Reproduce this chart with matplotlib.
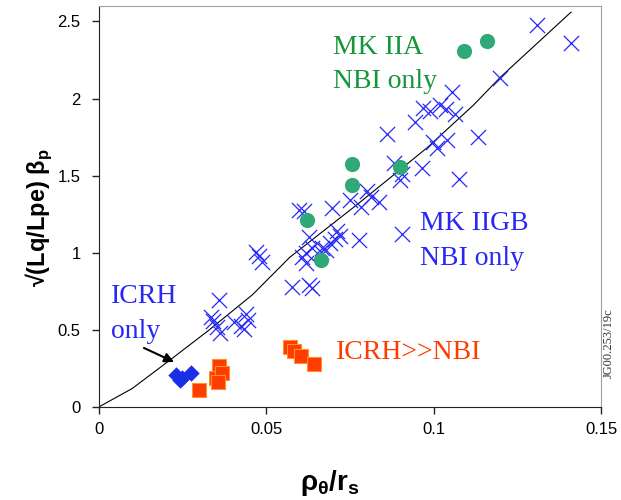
#!/usr/bin/env python
"""plot.py -- normalised beta_p vs rho_theta/r_s scatter, redrawn as out.png."""

import matplotlib
matplotlib.use("Agg")
import matplotlib.pyplot as plt

plt.rcParams["font.family"] = ["Liberation Sans", "DejaVu Sans"]
plt.rcParams["mathtext.fontset"] = "custom"
plt.rcParams["mathtext.rm"] = "Liberation Sans"
plt.rcParams["mathtext.bf"] = "Liberation Sans:bold"

# MK IIGB, NBI only (blue crosses)
cross_x = [0.1308, 0.1410, 0.1198, 0.1054, 0.0967, 0.0988, 0.1018, 0.1036,
           0.1063, 0.0943, 0.0862, 0.0997, 0.1039, 0.1009, 0.1132, 0.0883,
           0.0964, 0.1075, 0.0898, 0.0904, 0.0802, 0.0814, 0.0838, 0.0749,
           0.0784, 0.0695, 0.0599, 0.0614, 0.0629, 0.0710, 0.0719, 0.0704,
           0.0689, 0.0668, 0.0778, 0.0904, 0.0638, 0.0620, 0.0608, 0.0620,
           0.0470, 0.0479, 0.0488, 0.0578, 0.0629, 0.0638, 0.0359, 0.0335,
           0.0341, 0.0353, 0.0362, 0.0404, 0.0425, 0.0440, 0.0446, 0.0434,
           0.0680, 0.0665]
cross_y = [2.48, 2.357, 2.136, 2.045, 1.94, 1.92, 1.96, 1.93,
           1.90, 1.85, 1.77, 1.72, 1.73, 1.68, 1.75, 1.58,
           1.55, 1.48, 1.47, 1.51, 1.40, 1.36, 1.33, 1.34,
           1.30, 1.29, 1.28, 1.27, 1.10, 1.14, 1.11, 1.09,
           1.065, 1.03, 1.08, 1.12, 1.03, 1.00, 0.97, 0.935,
           1.005, 0.98, 0.94, 0.78, 0.79, 0.77, 0.695, 0.585,
           0.56, 0.52, 0.48, 0.55, 0.525, 0.60, 0.565, 0.505,
           1.02, 1.005]

# MK IIA, NBI only (green circles)
circle_x = [0.1090, 0.1158, 0.0900, 0.0756, 0.0756, 0.0622, 0.0664]
circle_y = [2.305, 2.37, 1.558, 1.578, 1.44, 1.21, 0.955]

# ICRH only (blue diamonds)
diamond_x = [0.0232, 0.0244, 0.0274, 0.0250]
diamond_y = [0.21, 0.175, 0.22, 0.19]

# ICRH >> NBI (orange squares)
square_x = [0.0571, 0.0583, 0.0604, 0.0643, 0.0298, 0.0360, 0.0351, 0.0369, 0.0357]
square_y = [0.39, 0.364, 0.33, 0.28, 0.11, 0.266, 0.19, 0.22, 0.16]

# guide line through the data
fit_x = [0.0, 0.010, 0.021, 0.033, 0.046, 0.057, 0.077, 0.098, 0.112, 0.120, 0.141]
fit_y = [0.0, 0.12, 0.30, 0.50, 0.73, 0.97, 1.31, 1.68, 1.96, 2.14, 2.56]

x_ticks = [0, 0.05, 0.1, 0.15]
x_tick_labels = ["0", "0.05", "0.1", "0.15"]
y_ticks = [0, 0.5, 1, 1.5, 2, 2.5]
y_tick_labels = ["0", "0.5", "1", "1.5", "2", "2.5"]

GREEN_TEXT = "#16963c"
GREEN_DOT = "#30a878"
BLUE = "#2828f5"
ORANGE = "#ff3c00"
SERIF = ["Liberation Serif", "DejaVu Serif"]


def make_plot():
    fig = plt.figure(figsize=(6.21, 5.00), dpi=100)
    ax = fig.add_axes([0.159, 0.186, 0.809, 0.802])

    ax.plot(fit_x, fit_y, color="black", lw=0.8, zorder=2)
    ax.scatter(cross_x, cross_y, marker="x", s=120, color=BLUE, lw=0.9, zorder=3)
    ax.scatter(circle_x, circle_y, marker="o", s=120, color=GREEN_DOT, lw=0, zorder=4)
    ax.scatter(diamond_x, diamond_y, marker="D", s=70, color="#1a30e6", lw=0, zorder=4)
    ax.scatter(square_x, square_y, marker="s", s=110, color=ORANGE,
               edgecolor="#ff9030", lw=0.8, zorder=4)

    # labels for each group
    ax.text(0.0698, 2.292, "MK IIA", color=GREEN_TEXT, fontsize=20, family=SERIF)
    ax.text(0.0698, 2.071, "NBI only", color=GREEN_TEXT, fontsize=20, family=SERIF)
    ax.text(0.0958, 1.149, "MK IIGB", color=BLUE, fontsize=20, family=SERIF)
    ax.text(0.0958, 0.922, "NBI only", color=BLUE, fontsize=20, family=SERIF)
    ax.text(0.0036, 0.675, "ICRH", color=BLUE, fontsize=20, family=SERIF)
    ax.text(0.0036, 0.448, "only", color=BLUE, fontsize=20, family=SERIF)
    ax.text(0.0707, 0.312, "ICRH>>NBI", color=ORANGE, fontsize=20, family=SERIF)
    ax.annotate("", xy=(0.0225, 0.292), xytext=(0.0135, 0.383),
                arrowprops=dict(arrowstyle="-|>", color="black", lw=1.5,
                                mutation_scale=14, shrinkA=0, shrinkB=0))

    ax.set_xlim(0, 0.15)
    ax.set_ylim(0, 2.6)
    ax.set_xticks(x_ticks, x_tick_labels)
    ax.set_yticks(y_ticks, y_tick_labels)
    ax.tick_params(direction="out", length=5, width=1, labelsize=12, color="#222222")
    ax.tick_params(axis="x", pad=6)
    ax.tick_params(axis="y", pad=8)
    for side in ("left", "bottom"):
        ax.spines[side].set_color("#222222")
    for side in ("top", "right"):
        ax.spines[side].set_color("#a0a0a0")

    fig.text(330 / 621, 1 - 490 / 500, r"ρ$_{\mathbf{θ}}$/r$_{\mathbf{s}}$",
             ha="center", va="baseline", fontsize=20, fontweight="bold")
    fig.text(39 / 621, 1 - 218 / 500, r"√(Lq/Lpe) β$_{\mathbf{p}}$",
             ha="center", va="center", rotation=90, fontsize=17, fontweight="bold")
    fig.text(609 / 621, 1 - 343 / 500, "JG00.253/19c", ha="center", va="center",
             rotation=90, fontsize=9, family=SERIF, color="#333333")

    fig.savefig("out.png", dpi=100)
    plt.close(fig)


if __name__ == "__main__":
    make_plot()
